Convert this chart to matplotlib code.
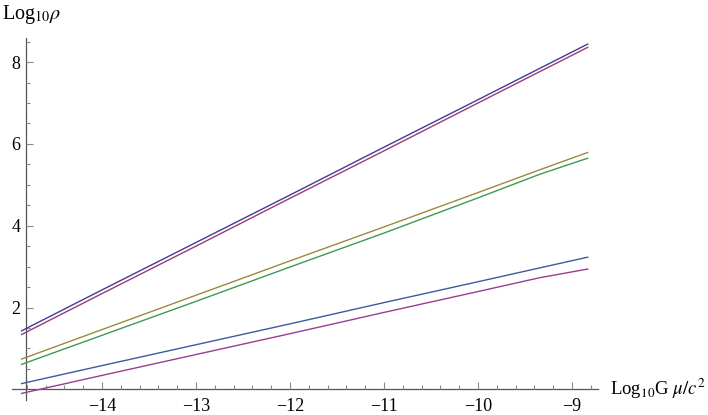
import matplotlib
matplotlib.use('Agg')
import matplotlib.pyplot as plt
import numpy as np
from matplotlib.colors import hsv_to_rgb
from matplotlib.ticker import FixedLocator

plt.rcParams['font.family'] = ['Liberation Serif', 'DejaVu Serif']
plt.rcParams['mathtext.fontset'] = 'stix'

# Log10 G mu / c^2 sample points
log_gmu = [-14.855, -14, -13, -12, -11, -10, -9.34, -8.833]

# Log10 rho for the six curves
rho_a = [1.43, 2.43, 3.59, 4.75, 5.92, 7.08, 7.85, 8.44]
rho_b = [1.34, 2.34, 3.50, 4.67, 5.83, 7.00, 7.77, 8.36]
rho_c = [0.74, 1.46, 2.30, 3.14, 3.97, 4.81, 5.37, 5.79]
rho_d = [0.61, 1.32, 2.15, 2.99, 3.82, 4.68, 5.26, 5.65]
rho_e = [0.14, 0.58, 1.09, 1.60, 2.12, 2.63, 2.97, 3.23]
rho_f = [-0.10, 0.34, 0.85, 1.36, 1.88, 2.39, 2.73, 2.94]

# Mathematica default plot style hues
hues = [0.67, 0.906068, 0.142136, 0.378204, 0.614272, 0.85034]

fig = plt.figure(figsize=(7.08, 4.15), dpi=100)
ax = fig.add_axes([0, 0, 1, 1])
ax.set_xlim(-15.085, -7.553)
ax.set_ylim(-0.628, 9.518)

for rho, h in zip([rho_a, rho_b, rho_c, rho_d, rho_e, rho_f], hues):
    ax.plot(log_gmu, rho, color=hsv_to_rgb([h, 0.6, 0.6]), lw=1.0)

# axes crossing inside the frame, Mathematica style
for s in ['top', 'right']:
    ax.spines[s].set_visible(False)
ax.spines['left'].set_position(('data', -14.81))
ax.spines['left'].set_bounds(-0.26, 8.59)
ax.spines['bottom'].set_position(('data', 0))
ax.spines['bottom'].set_bounds(-14.96, -8.72)
for s in ['left', 'bottom']:
    ax.spines[s].set_color('#555555')
    ax.spines[s].set_linewidth(0.9)
    ax.spines[s].set_zorder(1)

ax.xaxis.set_major_locator(FixedLocator([-14, -13, -12, -11, -10, -9]))
ax.xaxis.set_minor_locator(FixedLocator(np.arange(-14.8, -8.75, 0.2)))
ax.yaxis.set_major_locator(FixedLocator([2, 4, 6, 8]))
ax.yaxis.set_minor_locator(FixedLocator(np.arange(0.5, 8.6, 0.5)))

ax.tick_params(which='both', direction='in', color='#888888', width=0.8,
               labelsize=13, labelcolor='black')
ax.tick_params(which='major', length=5)
ax.tick_params(which='minor', length=3.2)
ax.tick_params(axis='x', which='major', pad=6)
ax.tick_params(axis='y', which='major', pad=4)

fig.text(706 / 708, 1 - 389 / 415, r'Log$_{10}$G $\mu/c^2$', fontsize=13.5,
         va='center', ha='right')
fig.text(2 / 708, 1 - 19 / 415, r'Log$_{10}\rho$', fontsize=14.5,
         va='baseline', ha='left')

fig.savefig('out.png', dpi=100)
